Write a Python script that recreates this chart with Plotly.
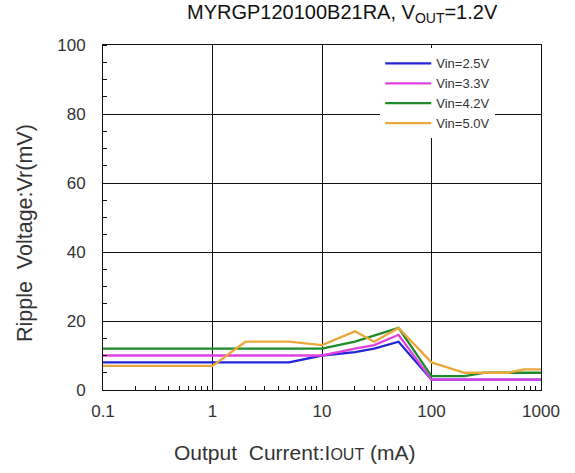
import plotly.graph_objects as go

title_text = "MYRGP120100B21RA, V<sub>OUT</sub>=1.2V"
x_title = "Output  Current:I<span style='font-size:16px'>OUT</span> (mA)"
y_title = "Ripple  Voltage:Vr(mV)"

x_tick_vals = [0.1, 1, 10, 100, 1000]
x_tick_text = ["0.1", "1", "10", "100", "1000"]
y_tick_vals = [0, 20, 40, 60, 80, 100]
x_minor_vals = [m * 10.0 ** e for e in range(-1, 3) for m in range(2, 10)]

names = ["Vin=2.5V", "Vin=3.3V", "Vin=4.2V", "Vin=5.0V"]
colors = ["#2424d8", "#e040e0", "#1f8a2a", "#eba83a"]

x_25 = [0.1, 1, 5, 10, 20, 30, 50, 100, 1000]
y_25 = [8, 8, 8, 10, 11, 12, 14, 3, 3]

x_33 = [0.1, 1, 10, 20, 30, 50, 100, 1000]
y_33 = [10, 10, 10, 12, 13, 16, 3, 3]

x_42 = [0.1, 1, 10, 20, 50, 100, 200, 300, 1000]
y_42 = [12, 12, 12, 14, 18, 4, 4, 5, 5]

x_50 = [0.1, 1, 2, 5, 10, 20, 30, 50, 100, 200, 500, 700, 1000]
y_50 = [7, 7, 14, 14, 13, 17, 14, 18, 8, 5, 5, 6, 6]

series_x = [x_25, x_33, x_42, x_50]
series_y = [y_25, y_33, y_42, y_50]

fig = go.Figure()
for n, c, xs, ys in zip(names, colors, series_x, series_y):
    fig.add_trace(go.Scatter(x=xs, y=ys, mode="lines", name=n,
                             line=dict(color=c, width=2.3)))

font_family = "Liberation Sans, Arial, sans-serif"
fig.update_layout(
    width=575, height=473,
    margin=dict(l=103, r=34, t=45, b=83),
    paper_bgcolor="white", plot_bgcolor="white",
    font=dict(family=font_family, size=17, color="#333333"),
    title=dict(text=title_text, x=0.595, xanchor="center", y=0.99, yanchor="top",
               font=dict(size=20, color="#111111")),
    showlegend=True,
    legend=dict(x=0.633, y=0.99, xanchor="left", yanchor="top",
                bgcolor="white", borderwidth=0, tracegroupgap=0,
                font=dict(size=13, color="#333333"), itemwidth=46),
    xaxis=dict(type="log", range=[-1, 3], tickvals=x_tick_vals, ticktext=x_tick_text,
               showgrid=True, gridcolor="#111111", gridwidth=1,
               showline=True, linecolor="#111111", linewidth=1, mirror=True,
               ticks="", ticklabelstandoff=6, automargin=False,
               minor=dict(tickvals=x_minor_vals, ticks="inside", ticklen=4,
                          tickcolor="#111111", showgrid=False),
               zeroline=False),
    yaxis=dict(range=[0, 100], tickvals=y_tick_vals,
               showgrid=True, gridcolor="#111111", gridwidth=1,
               showline=True, linecolor="#111111", linewidth=1, mirror=True,
               ticks="", ticklabelstandoff=13, automargin=False,
               minor=dict(dtick=5, ticks="inside", ticklen=4, tickcolor="#111111", showgrid=False),
               zeroline=False),
    annotations=[
        dict(text=x_title, xref="paper", yref="paper", x=0.438, y=-0.18,
             xanchor="center", yanchor="middle", showarrow=False,
             font=dict(size=21, color="#333333")),
        dict(text=y_title, xref="paper", yref="paper", x=-0.178, y=0.455,
             xanchor="center", yanchor="middle", textangle=-90, showarrow=False,
             font=dict(size=21.5, color="#333333")),
    ],
)

fig.write_html("out.html", config={"displayModeBar": False},
               post_script="document.body.style.margin='0';")
